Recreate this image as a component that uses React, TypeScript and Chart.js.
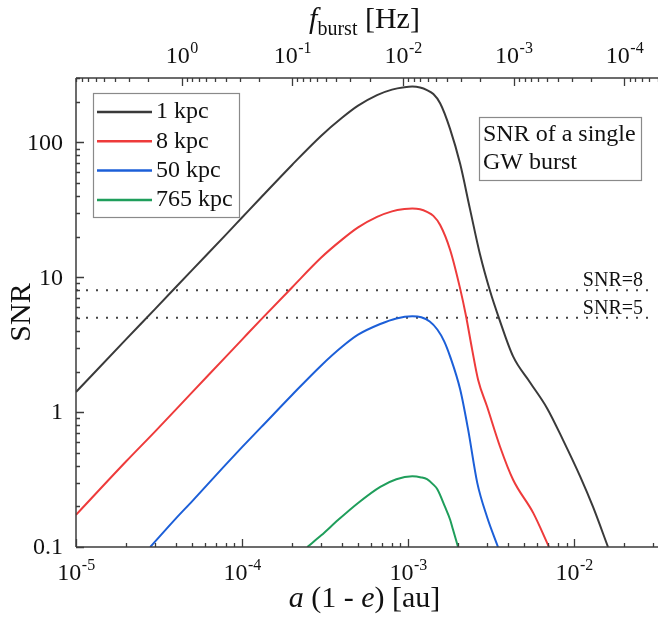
import { useEffect, useRef } from "react";
import { Chart, registerables } from "chart.js";

Chart.register(...registerables);

const SERIF = '"Liberation Serif", "Times New Roman", "DejaVu Serif", serif';

// ---- data ----
const sep1kpc = [1e-5, 2e-5, 3e-5, 5e-5, 8e-5, 1e-4, 1.3e-4, 2e-4, 3e-4, 4e-4, 5e-4, 6.5e-4, 8e-4, 9.5e-4, 1.06e-3, 1.18e-3, 1.3e-3, 1.42e-3, 1.56e-3, 1.79e-3, 2.06e-3, 2.36e-3, 2.71e-3, 3.12e-3, 3.53e-3, 4.29e-3, 5.43e-3, 6.87e-3, 8.58e-3, 1.09e-2, 1.3e-2, 1.6e-2];
const snr1kpc = [1.41, 3.46, 5.83, 11.3, 20.7, 27.7, 39, 68, 112, 152, 187, 224, 246, 256, 259, 255, 244, 228, 195, 126, 69, 32, 14.8, 7.87, 4.96, 2.59, 1.66, 1.07, 0.62, 0.331, 0.198, 0.1];

const sep8kpc = [1e-5, 2e-5, 3e-5, 5e-5, 8e-5, 1e-4, 1.3e-4, 2e-4, 3e-4, 4e-4, 5e-4, 6.5e-4, 8e-4, 9.5e-4, 1.06e-3, 1.18e-3, 1.3e-3, 1.42e-3, 1.56e-3, 1.79e-3, 2.06e-3, 2.23e-3, 2.43e-3, 2.64e-3, 2.99e-3, 3.58e-3, 4.29e-3, 5.67e-3, 7.06e-3];
const snr8kpc = [0.173, 0.43, 0.72, 1.4, 2.58, 3.45, 4.85, 8.4, 14, 19, 23.4, 28, 30.8, 32, 32.3, 31.9, 30.5, 28.5, 24.4, 16, 8.2, 5.2, 2.92, 1.74, 1.1, 0.554, 0.315, 0.179, 0.1];

const sep50kpc = [2.8e-5, 4e-5, 5e-5, 8e-5, 1e-4, 1.3e-4, 2e-4, 3e-4, 4e-4, 5e-4, 6.8e-4, 8.5e-4, 1.06e-3, 1.2e-3, 1.35e-3, 1.5e-3, 1.65e-3, 1.79e-3, 2.06e-3, 2.3e-3, 2.61e-3, 2.99e-3, 3.48e-3];
const snr50kpc = [0.1, 0.163, 0.218, 0.41, 0.55, 0.77, 1.34, 2.22, 3.05, 3.75, 4.5, 4.95, 5.13, 5.05, 4.7, 4.1, 3.35, 2.59, 1.47, 0.741, 0.299, 0.167, 0.1];

const sep765kpc = [2.47e-4, 3e-4, 3.8e-4, 5e-4, 6.8e-4, 8.5e-4, 1.06e-3, 1.2e-3, 1.3e-3, 1.42e-3, 1.5e-3, 1.67e-3, 1.79e-3, 1.86e-3, 2.0e-3];
const snr765kpc = [0.1, 0.122, 0.159, 0.212, 0.279, 0.318, 0.334, 0.328, 0.318, 0.29, 0.268, 0.198, 0.16, 0.136, 0.1];

const seriesLabels = ["1 kpc", "8 kpc", "50 kpc", "765 kpc"];
const seriesColors = ["#3a3a3a", "#ee3b3b", "#1c5fd8", "#1f9e5b"];

const thresholdValues = [8, 5];
const thresholdLabels = ["SNR=8", "SNR=5"];
const thresholdSpan = [1e-5, 0.029];

const xRange = [1e-5, 0.032];
const yRange = [0.1, 300];
const xMajorExponents = [-5, -4, -3, -2];
const yMajorValues = [0.1, 1, 10, 100];
const yMajorLabels = ["0.1", "1", "10", "100"];
const fMajorExponents = [0, -1, -2, -3, -4];
// f_burst = fCoeff * (a(1-e))^fPower
const fCoeff = 2.85e-7;
const fPower = -1.5;

const boxLines = ["SNR of a single", "GW burst"];

function pts(xs: number[], ys: number[]) {
  return xs.map((x, i) => ({ x, y: ys[i] }));
}

function logTicks(min: number, max: number) {
  const lo = Math.min(min, max), hi = Math.max(min, max);
  const out: { v: number; major: boolean }[] = [];
  for (let e = Math.floor(Math.log10(lo)); e <= Math.ceil(Math.log10(hi)); e++) {
    for (let m = 1; m < 10; m++) {
      const v = m * Math.pow(10, e);
      if (v >= lo * 0.9999 && v <= hi * 1.0001) out.push({ v, major: m === 1 });
    }
  }
  return out;
}

function drawPow(ctx: CanvasRenderingContext2D, exp: number, cx: number, baseline: number, size: number) {
  const sup = Math.round(size * 0.66);
  const expStr = exp < 0 ? "-" + Math.abs(exp) : String(exp);
  ctx.font = `${size}px ${SERIF}`;
  const w1 = ctx.measureText("10").width;
  ctx.font = `${sup}px ${SERIF}`;
  const w2 = ctx.measureText(expStr).width;
  const x0 = cx - (w1 + w2) / 2;
  ctx.textAlign = "left";
  ctx.textBaseline = "alphabetic";
  ctx.font = `${size}px ${SERIF}`;
  ctx.fillText("10", x0, baseline);
  ctx.font = `${sup}px ${SERIF}`;
  ctx.fillText(expStr, x0 + w1 + 0.5, baseline - size * 0.4);
}

function drawSegments(ctx: CanvasRenderingContext2D, segs: { t: string; font: string; dy?: number }[], cx: number, baseline: number) {
  let total = 0;
  for (const s of segs) {
    ctx.font = s.font;
    total += ctx.measureText(s.t).width;
  }
  let x = cx - total / 2;
  ctx.textAlign = "left";
  ctx.textBaseline = "alphabetic";
  for (const s of segs) {
    ctx.font = s.font;
    ctx.fillText(s.t, x, baseline + (s.dy || 0));
    x += ctx.measureText(s.t).width;
  }
}

const decorPlugin = {
  id: "decor",
  afterDraw(chart: any) {
    const ctx: CanvasRenderingContext2D = chart.ctx;
    const { left, right, top, bottom } = chart.chartArea;
    const xs = chart.scales.x;
    const xt = chart.scales.xTop;
    const ys = chart.scales.y;
    ctx.save();

    // axis lines
    ctx.strokeStyle = "#3c3c3c";
    ctx.lineWidth = 1.5;
    ctx.beginPath();
    ctx.moveTo(left, top); ctx.lineTo(right, top);
    ctx.moveTo(left, bottom); ctx.lineTo(right, bottom);
    ctx.moveTo(left, top); ctx.lineTo(left, bottom);
    ctx.stroke();

    // inward ticks
    ctx.lineWidth = 1.3;
    ctx.beginPath();
    for (const t of logTicks(xs.min, xs.max)) {
      const p = Math.round(xs.getPixelForValue(t.v)) + 0.5;
      const len = t.major ? 8 : 4;
      ctx.moveTo(p, bottom); ctx.lineTo(p, bottom - len);
    }
    for (const t of logTicks(xt.min, xt.max)) {
      const p = Math.round(xt.getPixelForValue(t.v)) + 0.5;
      const len = t.major ? 8 : 4;
      ctx.moveTo(p, top); ctx.lineTo(p, top + len);
    }
    for (const t of logTicks(ys.min, ys.max)) {
      const p = Math.round(ys.getPixelForValue(t.v)) + 0.5;
      const len = t.major ? 8 : 4;
      ctx.moveTo(left, p); ctx.lineTo(left + len, p);
    }
    ctx.stroke();

    ctx.fillStyle = "#111";
    // bottom tick labels
    for (const e of xMajorExponents) {
      drawPow(ctx, e, xs.getPixelForValue(Math.pow(10, e)), bottom + 33, 24);
    }
    // top tick labels
    for (const e of fMajorExponents) {
      drawPow(ctx, e, xt.getPixelForValue(Math.pow(10, e)), top - 15, 24);
    }
    // y tick labels
    ctx.font = `24px ${SERIF}`;
    ctx.textAlign = "right";
    ctx.textBaseline = "middle";
    yMajorValues.forEach((v, i) => {
      ctx.fillText(yMajorLabels[i], left - 13, ys.getPixelForValue(v) + 1);
    });

    // axis titles
    const cx = (left + right - 5) / 2;
    drawSegments(ctx, [
      { t: "a", font: `italic 30px ${SERIF}` },
      { t: " (1 - ", font: `30px ${SERIF}` },
      { t: "e", font: `italic 30px ${SERIF}` },
      { t: ") [au]", font: `30px ${SERIF}` },
    ], cx, bottom + 60);
    drawSegments(ctx, [
      { t: "f", font: `italic 30px ${SERIF}` },
      { t: "burst", font: `20px ${SERIF}`, dy: 7 },
      { t: " [Hz]", font: `30px ${SERIF}` },
    ], cx, 28);
    ctx.save();
    ctx.translate(30, (top + bottom) / 2);
    ctx.rotate(-Math.PI / 2);
    ctx.font = `30px ${SERIF}`;
    ctx.textAlign = "center";
    ctx.textBaseline = "alphabetic";
    ctx.fillText("SNR", 0, 0);
    ctx.restore();

    // threshold labels
    ctx.font = `20px ${SERIF}`;
    ctx.textAlign = "right";
    ctx.textBaseline = "alphabetic";
    thresholdValues.forEach((v, i) => {
      ctx.fillText(thresholdLabels[i], right - 15, ys.getPixelForValue(v) - 4);
    });

    // legend
    const lx = left + 17, ly = top + 15, lw = 146, lh = 124;
    ctx.strokeStyle = "#8a8a8a";
    ctx.lineWidth = 1.2;
    ctx.strokeRect(lx + 0.5, ly + 0.5, lw, lh);
    ctx.font = `24px ${SERIF}`;
    ctx.textAlign = "left";
    ctx.textBaseline = "middle";
    seriesLabels.forEach((lab, i) => {
      const yy = ly + 19 + i * 29.3;
      ctx.strokeStyle = seriesColors[i];
      ctx.lineWidth = 2.5;
      ctx.beginPath();
      ctx.moveTo(lx + 4, yy); ctx.lineTo(lx + 59, yy);
      ctx.stroke();
      ctx.fillStyle = "#111";
      ctx.fillText(lab, lx + 63, yy);
    });

    // annotation box
    const bx = right - 179, by = top + 39, bw = 162, bh = 63;
    ctx.strokeStyle = "#8a8a8a";
    ctx.lineWidth = 1.2;
    ctx.strokeRect(bx + 0.5, by + 0.5, bw, bh);
    ctx.fillStyle = "#111";
    ctx.font = `24px ${SERIF}`;
    ctx.textAlign = "left";
    ctx.textBaseline = "middle";
    boxLines.forEach((t, i) => ctx.fillText(t, bx + 4, by + 18 + i * 28));

    ctx.restore();
  },
};

export default function App() {
  const ref = useRef<HTMLCanvasElement | null>(null);
  useEffect(() => {
    if (!ref.current) return;
    const seps = [sep1kpc, sep8kpc, sep50kpc, sep765kpc];
    const snrs = [snr1kpc, snr8kpc, snr50kpc, snr765kpc];
    const datasets: any[] = seriesLabels.map((lab, i) => ({
      label: lab,
      data: pts(seps[i], snrs[i]),
      borderColor: seriesColors[i],
      borderWidth: 2,
      pointRadius: 0,
      fill: false,
      cubicInterpolationMode: "monotone",
      xAxisID: "x",
      yAxisID: "y",
    }));
    thresholdValues.forEach((v, i) => {
      datasets.push({
        label: thresholdLabels[i],
        data: pts(thresholdSpan, [v, v]),
        borderColor: "#444",
        borderWidth: 2,
        borderDash: [2, 8],
        borderCapStyle: "butt",
        pointRadius: 0,
        fill: false,
        xAxisID: "x",
        yAxisID: "y",
      });
    });
    const fAt = (a: number) => fCoeff * Math.pow(a, fPower);
    const fA = fAt(xRange[0]), fB = fAt(xRange[1]);
    const chart = new Chart(ref.current, {
      type: "line",
      data: { datasets },
      plugins: [decorPlugin],
      options: {
        animation: false,
        responsive: false,
        devicePixelRatio: 1,
        layout: { padding: 0 },
        plugins: { legend: { display: false }, tooltip: { enabled: false } },
        scales: {
          x: {
            type: "logarithmic", position: "bottom", min: xRange[0], max: xRange[1],
            ticks: { display: false }, grid: { display: false }, border: { display: false },
            afterFit: (s: any) => { s.height = 76; },
          },
          xTop: {
            type: "logarithmic", position: "top", reverse: true,
            min: Math.min(fA, fB), max: Math.max(fA, fB),
            ticks: { display: false }, grid: { display: false }, border: { display: false },
            afterFit: (s: any) => { s.height = 78; },
          },
          y: {
            type: "logarithmic", position: "left", min: yRange[0], max: yRange[1],
            ticks: { display: false }, grid: { display: false }, border: { display: false },
            afterFit: (s: any) => { s.width = 76; },
          },
        } as any,
      },
    } as any);
    return () => chart.destroy();
  }, []);
  return (
    <div style={{ position: "fixed", left: 0, top: 0, width: 658, height: 623, background: "#fff" }}>
      <canvas ref={ref} width={658} height={623} style={{ display: "block" }} />
    </div>
  );
}
